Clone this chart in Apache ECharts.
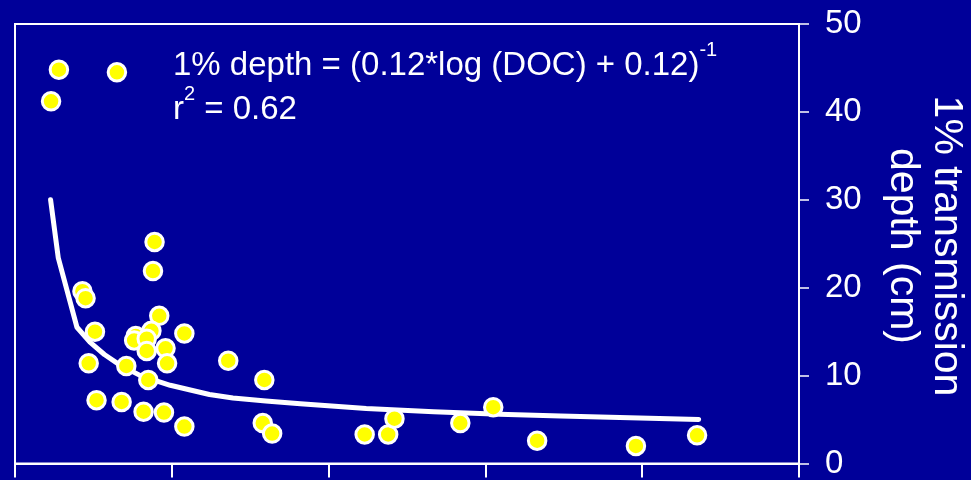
<!DOCTYPE html>
<html>
<head>
<meta charset="utf-8">
<script src="https://cdn.jsdelivr.net/npm/echarts@6/dist/echarts.min.js"></script>
<style>
  html, body { margin: 0; padding: 0; background: #000099; }
  #chart { width: 971px; height: 480px; }
</style>
</head>
<body>
<div id="chart"></div>
<script>
// Dissolved organic carbon (DOC) per lake and the depth reached by 1% of surface light (cm)
const docValues = [
  0.23, 0.28, 0.65, 0.89, 0.88, 0.43, 0.45, 0.51, 0.47, 0.52,
  0.68, 0.82, 0.95, 1.08, 0.71, 0.85, 0.92, 0.87, 0.77, 0.76,
  0.84, 0.84, 0.96, 0.97, 1.08, 1.36, 1.59, 1.58, 1.64, 2.23,
  2.38, 2.42, 2.84, 3.05, 3.33, 3.96, 4.35
];
const depthValues = [
  41.2, 44.8, 44.5, 25.2, 21.9, 19.6, 18.8, 15.0, 11.4, 7.2,
  7.0, 5.9, 5.8, 4.2, 11.1, 9.5, 16.8, 15.1, 14.5, 14.0,
  14.2, 12.8, 13.1, 11.4, 14.8, 11.7, 9.5, 4.6, 3.4, 3.3,
  3.3, 5.1, 4.6, 6.4, 2.6, 2.0, 3.2
];

// Fitted curve: 1% depth = (0.12*log(DOC) + 0.12)^-1
const fitDoc   = [0.227, 0.276, 0.395, 0.478, 0.57, 0.67, 0.80, 0.99, 1.24, 1.39, 1.60, 1.82, 2.24, 2.67, 3.09, 3.48, 4.36];
const fitDepth = [30.0, 23.4, 15.5, 13.8, 12.4, 11.2, 10.0, 8.9, 7.85, 7.45, 7.1, 6.8, 6.25, 5.9, 5.6, 5.4, 5.0];

const depthTicks = [0, 10, 20, 30, 40, 50];

const FONT = '"Liberation Sans", Arial, Helvetica, sans-serif';
const WHITE = '#ffffff';

const chart = echarts.init(document.getElementById('chart'), null, { renderer: 'canvas' });

const mainRich = {
  m: { fontSize: 33, lineHeight: 52, fontFamily: FONT, fill: WHITE },
  s: { fontSize: 20, lineHeight: 20, verticalAlign: 'top', fontFamily: FONT, fill: WHITE }
};

const option = {
  backgroundColor: '#000099',
  animation: false,
  grid: {
    left: 15, right: 172, top: 24, bottom: 13,
    show: true, borderColor: WHITE, borderWidth: 2, backgroundColor: 'transparent'
  },
  xAxis: {
    type: 'value',
    min: 0, max: 5, interval: 1,
    axisLine: { show: true, onZero: false, lineStyle: { color: WHITE, width: 2 } },
    axisTick: { show: true, length: 14, lineStyle: { color: WHITE, width: 2 } },
    axisLabel: { show: false },
    splitLine: { show: false }
  },
  yAxis: {
    type: 'value',
    position: 'right',
    min: depthTicks[0], max: depthTicks[depthTicks.length - 1], interval: 10,
    axisLine: { show: true, onZero: false, lineStyle: { color: WHITE, width: 2 } },
    axisTick: { show: true, length: 10, lineStyle: { color: WHITE, width: 1.5 } },
    axisLabel: { color: WHITE, fontSize: 33, fontFamily: FONT, margin: 26 },
    splitLine: { show: false }
  },
  series: [
    {
      name: 'fit',
      type: 'line',
      data: fitDoc.map((d, i) => [d, fitDepth[i]]),
      showSymbol: false,
      smooth: false,
      z: 2,
      lineStyle: { color: WHITE, width: 5, cap: 'round', join: 'round' }
    },
    {
      name: 'lakes',
      type: 'scatter',
      data: docValues.map((d, i) => [d, depthValues[i]]),
      symbol: 'circle',
      symbolSize: 17.5,
      z: 3,
      itemStyle: { color: '#ffff00', borderColor: WHITE, borderWidth: 3, opacity: 1 }
    }
  ],
  graphic: [
    {
      type: 'text', left: 173, top: 40, z: 10,
      style: {
        text: '{m|1% depth = (0.12*log (DOC) + 0.12)}{s|-1}',
        fill: WHITE,
        rich: mainRich
      }
    },
    {
      type: 'text', left: 173, top: 84, z: 10,
      style: {
        text: '{m|r}{s|2}{m| = 0.62}',
        fill: WHITE,
        rich: mainRich
      }
    },
    {
      type: 'text', x: 946, y: 246, rotation: -Math.PI / 2, z: 10,
      style: {
        text: '1% transmission', fill: WHITE,
        font: '41px ' + FONT, textAlign: 'center', textVerticalAlign: 'middle'
      }
    },
    {
      type: 'text', x: 902, y: 246, rotation: -Math.PI / 2, z: 10,
      style: {
        text: 'depth (cm)', fill: WHITE,
        font: '41px ' + FONT, textAlign: 'center', textVerticalAlign: 'middle'
      }
    }
  ]
};

chart.setOption(option);
</script>
</body>
</html>
